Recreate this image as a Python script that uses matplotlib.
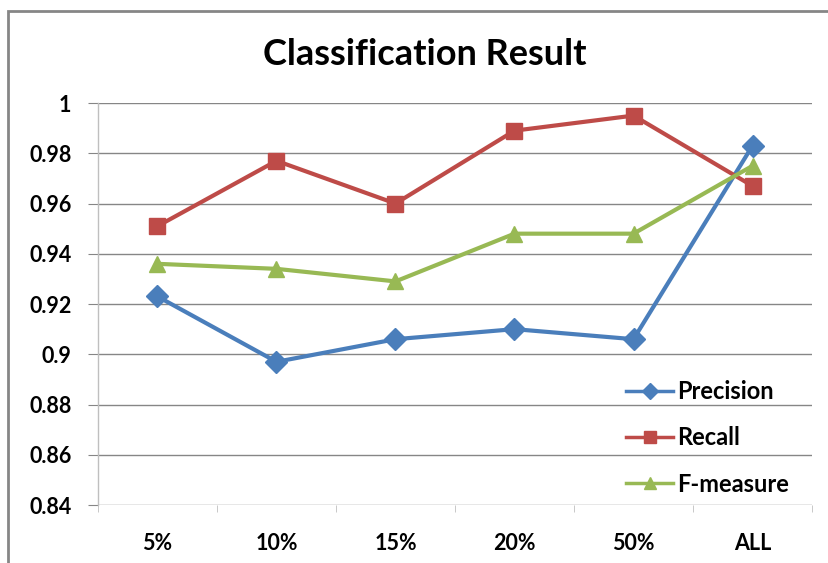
import matplotlib.pyplot as plt
from matplotlib.patches import Rectangle
import numpy as np

categories = ['5%', '10%', '15%', '20%', '50%', 'ALL']
precision = [0.923, 0.897, 0.906, 0.910, 0.906, 0.983]
recall    = [0.951, 0.977, 0.960, 0.989, 0.995, 0.967]
f_measure = [0.936, 0.934, 0.929, 0.948, 0.948, 0.975]

plt.rcParams['font.family'] = ['Lato', 'DejaVu Sans']

fig = plt.figure(figsize=(8.29, 5.63), dpi=100)
ax = fig.add_axes([0.1182, 0.103, 0.8613, 0.714])

x = np.arange(len(categories))
ax.plot(x, precision, '-D', color='#4A7EBB', lw=3, markersize=11, label='Precision')
ax.plot(x, recall, '-s', color='#BE4B48', lw=3, markersize=12, label='Recall')
ax.plot(x, f_measure, '-^', color='#98B954', lw=3, markersize=12, label='F-measure')

ax.set_xlim(-0.5, len(categories) - 0.5)
ax.set_ylim(0.84, 1.0)
ax.set_yticks(np.arange(0.84, 1.001, 0.02))
ax.set_yticklabels(['0.84', '0.86', '0.88', '0.9', '0.92', '0.94', '0.96', '0.98', '1'])
ax.set_xticks(x)
ax.set_xticklabels(categories)
ax.set_xticks(np.arange(-0.5, len(categories)), minor=True)

ax.grid(axis='y', color='#868686', lw=1)
ax.set_axisbelow(True)
for s in ['top', 'right', 'bottom']:
    ax.spines[s].set_visible(False)
ax.spines['left'].set_color('#BFBFBF')
ax.spines['left'].set_linewidth(1)

ax.tick_params(axis='y', length=7, color='#868686', pad=12, labelsize=15.5)
ax.tick_params(axis='x', which='major', length=0, pad=20, labelsize=15.5)
ax.tick_params(axis='x', which='minor', length=5, color='#BFBFBF')
for lab in ax.get_xticklabels() + ax.get_yticklabels():
    lab.set_fontweight('bold')

leg = ax.legend(loc='center left', bbox_to_anchor=(0.71, 0.167), frameon=False,
                prop={'weight': 'bold', 'size': 17}, handlelength=2.0,
                labelspacing=0.98, handletextpad=0.15, markerscale=0.75)
for h in leg.legend_handles:
    h.set_linewidth(2.5)

fig.text(0.512, 1 - 65 / 563, 'Classification Result', ha='center', va='baseline',
         fontsize=26, fontweight='bold')

# chart frame
fig.patches.append(Rectangle((8 / 829, -0.05), 1.05, 1.05 - 11 / 563,
                             transform=fig.transFigure, fill=False,
                             edgecolor='#868686', lw=2))

fig.savefig('out.png', dpi=100)
